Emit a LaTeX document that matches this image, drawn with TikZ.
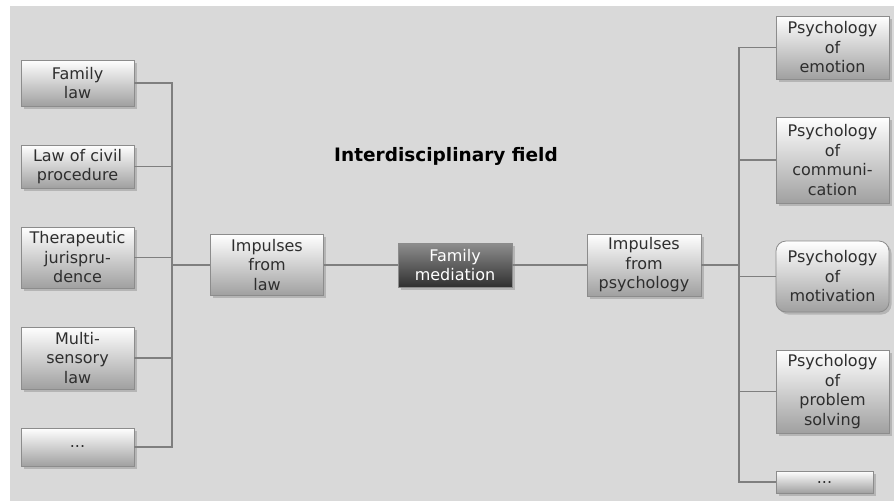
\documentclass[tikz,border=0pt]{standalone}
\usepackage{fontspec}
\setmainfont{DejaVu Sans}
\usetikzlibrary{shadows}
\definecolor{bggray}{HTML}{D9D9D9}
\definecolor{boxline}{HTML}{8C8C8C}
\definecolor{boxbot}{HTML}{A0A0A0}
\definecolor{linegray}{HTML}{7F7F7F}
\definecolor{txtgray}{HTML}{2E2E2E}
\definecolor{darktop}{HTML}{8E8E8E}
\definecolor{darkbot}{HTML}{303030}

\begin{document}
\begin{tikzpicture}[x=1pt, y=-1pt, line width=1.1pt,
    box/.style={draw=boxline, line width=0.8pt, top color=white, bottom color=boxbot,
      minimum width=113pt, inner sep=0pt, align=center, text=txtgray,
      font=\fontsize{16}{19.5}\selectfont,
      drop shadow={shadow xshift=2.5pt, shadow yshift=-2.5pt, opacity=0.4}},
    darkbox/.style={box, top color=darktop, bottom color=darkbot, text=white},
    conn/.style={draw=linegray}]
    \useasboundingbox (0,0) rectangle (894,501);
    \fill[bggray] (10,6) rectangle (894,501);

    % 标题
    \node[font=\bfseries\fontsize{18.5}{22}\selectfont] (title) at (446,156) {Interdisciplinary field};

    % 左侧
    \node[box, minimum height=46pt] (famlaw) at (77.5,83) {Family\\law};
    \node[box, minimum height=43pt] (civil) at (77.5,166.5) {Law of civil\\procedure};
    \node[box, minimum height=61pt] (thera) at (77.5,257.5) {Therapeutic\\jurispru-\\dence};
    \node[box, minimum height=62pt] (multi) at (77.5,358) {Multi-\\sensory\\law};
    \node[box, minimum height=38pt] (ldots) at (77.5,447) {...};

    % 中间
    \node[box, minimum height=61pt] (implaw) at (267,265) {Impulses\\from\\law};
    \node[darkbox, minimum width=114pt, minimum height=44pt] (famed) at (455,265) {Family\\mediation};
    \node[box, minimum width=114pt, minimum height=62pt] (imppsy) at (644,265) {Impulses\\from\\psychology};

    % 右侧
    \node[box, minimum height=63pt] (emotion) at (832.5,47.5) {Psychology\\of\\emotion};
    \node[box, minimum height=86pt] (commun) at (832.5,160) {Psychology\\of\\communi-\\cation};
    \node[box, minimum height=71pt, rounded corners=10pt] (motiv) at (832.5,276.5) {Psychology\\of\\motivation};
    \node[box, minimum height=83pt] (problem) at (832.5,391.5) {Psychology\\of\\problem\\solving};
    \node[box, minimum width=97pt, minimum height=22pt] (rdots) at (824.5,482) {...};

    % 连线
    \coordinate (lbus) at (172,265);
    \coordinate (rbus) at (739,265);
    \foreach \n in {famlaw,civil,thera,multi,ldots}
      \draw[conn] (\n.east) -| (lbus);
    \draw[conn] (lbus) -- (implaw.west);
    \draw[conn] (implaw.east) -- (famed.west);
    \draw[conn] (famed.east) -- (imppsy.west);
    \draw[conn] (imppsy.east) -- (rbus);
    \foreach \n in {emotion,commun,motiv,problem,rdots}
      \draw[conn] (rbus) |- (\n.west);
\end{tikzpicture}
\end{document}
